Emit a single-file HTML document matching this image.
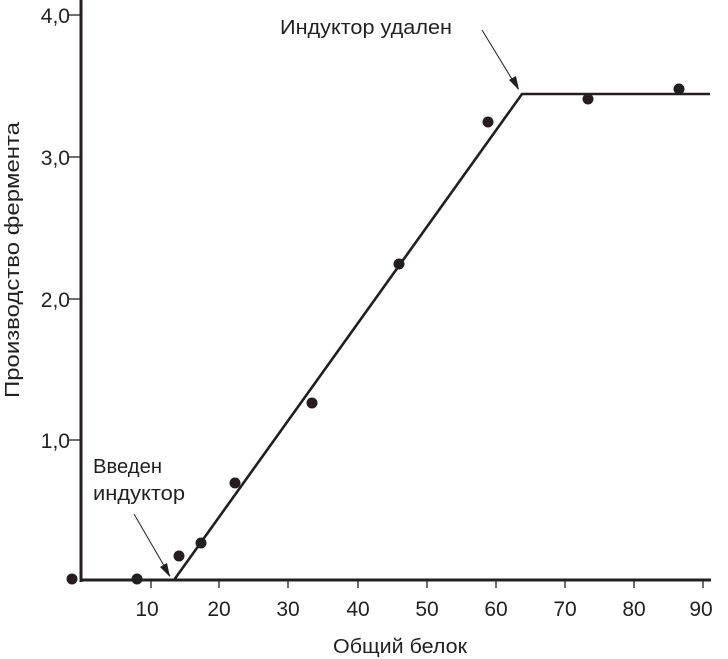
<!DOCTYPE html>
<html><head><meta charset="utf-8"><style>body{margin:0;background:#fff}svg{display:block}text{font-family:"Liberation Sans",sans-serif;fill:#231f20}</style></head><body>
<svg width="728" height="659" viewBox="0 0 728 659">
<g stroke="#231f20" fill="none">
<line x1="81" y1="0" x2="81" y2="582" stroke-width="3"/>
<line x1="80" y1="580" x2="711" y2="580" stroke-width="3"/>
<g stroke-width="1.3">
<line x1="69" y1="15" x2="81" y2="15"/><line x1="69" y1="157" x2="81" y2="157"/>
<line x1="69" y1="299" x2="81" y2="299"/><line x1="69" y1="440" x2="81" y2="440"/>
<line x1="151" y1="580" x2="151" y2="588"/><line x1="219" y1="580" x2="219" y2="588"/>
<line x1="288" y1="580" x2="288" y2="588"/><line x1="358" y1="580" x2="358" y2="588"/>
<line x1="427" y1="580" x2="427" y2="588"/><line x1="496" y1="580" x2="496" y2="588"/>
<line x1="565" y1="580" x2="565" y2="588"/><line x1="634" y1="580" x2="634" y2="588"/>
<line x1="703" y1="580" x2="703" y2="588"/>
</g>
<polyline points="174,580 522,94 710,94" stroke-width="2.6"/>
<line x1="134" y1="514" x2="170" y2="576" stroke-width="1"/>
<line x1="482" y1="30" x2="518" y2="89" stroke-width="1"/>
</g>
<polygon points="170,577 160,567 167,563" fill="#231f20"/>
<polygon points="519,90 509,80 516,76" fill="#231f20"/>
<g fill="#231f20">
<circle cx="72" cy="579" r="5.5"/><circle cx="137" cy="579" r="5.5"/><circle cx="179" cy="556" r="5.5"/>
<circle cx="201" cy="543" r="5.5"/><circle cx="235" cy="483" r="5.5"/><circle cx="312" cy="403" r="5.5"/>
<circle cx="399" cy="264" r="5.5"/><circle cx="488" cy="122" r="5.5"/><circle cx="588" cy="99" r="5.5"/>
<circle cx="679" cy="89" r="5.5"/>
</g>
<g font-size="21" text-anchor="end">
<text x="70" y="23">4,0</text><text x="70" y="165">3,0</text><text x="70" y="307">2,0</text><text x="70" y="448">1,0</text>
</g>
<g font-size="21" text-anchor="middle">
<text x="147" y="616">10</text><text x="219" y="616">20</text><text x="288" y="616">30</text><text x="358" y="616">40</text>
<text x="427" y="616">50</text><text x="496" y="616">60</text><text x="565" y="616">70</text><text x="634" y="616">80</text><text x="701" y="616">90</text>
</g>
<text x="333" y="653" font-size="20" textLength="134" lengthAdjust="spacingAndGlyphs">Общий белок</text>
<text transform="translate(19,398) rotate(-90)" font-size="20" textLength="276" lengthAdjust="spacingAndGlyphs">Производство фермента</text>
<g font-size="20">
<text x="93" y="473" textLength="69" lengthAdjust="spacingAndGlyphs">Введен</text>
<text x="93" y="500" textLength="92" lengthAdjust="spacingAndGlyphs">индуктор</text>
<text x="280" y="34" textLength="172" lengthAdjust="spacingAndGlyphs">Индуктор удален</text>
</g>
</svg>
</body></html>
